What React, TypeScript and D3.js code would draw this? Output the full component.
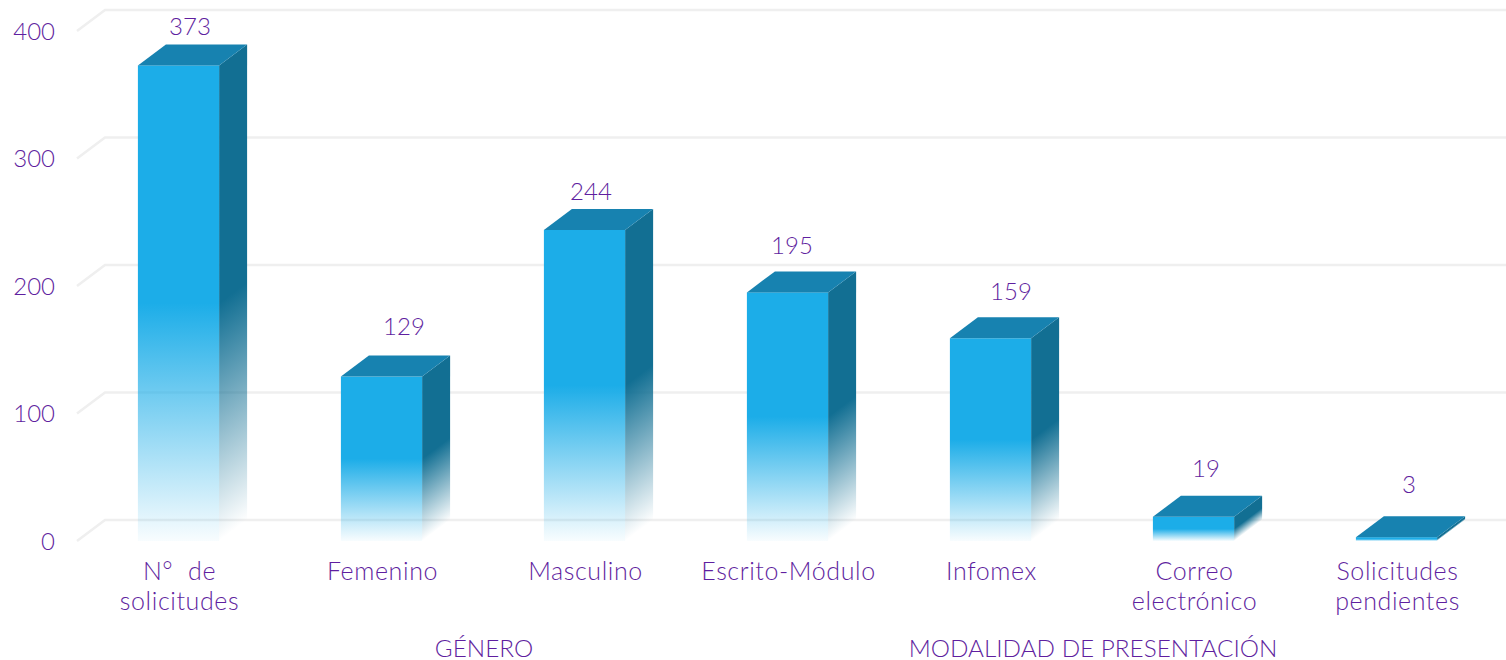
import * as d3 from 'd3';

// Solicitudes de información, by category
const categories = [
  ['N°\u00a0 de', 'solicitudes'],
  ['Femenino'],
  ['Masculino'],
  ['Escrito-Módulo'],
  ['Infomex'],
  ['Correo', 'electrónico'],
  ['Solicitudes', 'pendientes'],
];
const values = [373, 129, 244, 195, 159, 19, 3];
const yTicks = [0, 100, 200, 300, 400];

// group label -> first and last category index it sits under
const groups: [string, number, number][] = [
  ['GÉNERO', 1, 2],
  ['MODALIDAD DE PRESENTACIÓN', 3, 6],
];

const width = 1506;
const height = 660;
const depthX = 28;
const depthY = 21;
const baseY = 541;
// the value labels were moved by hand in the original, [dx from bar centre, dy above back edge]
const labelNudge = [
  [11.5, 18],
  [22.5, 29],
  [6.5, 18],
  [4.5, 26],
  [20.5, 26],
  [12.5, 27],
  [12.5, 32],
];

const frontColor = '#1cade8';
const sideColor = '#126f93';
const topColor = '#1782b0';
const textColor = '#5f1fa0';
const gridColor = '#efefef';
const font = 'Lato, "Open Sans", sans-serif';

const x = d3
  .scaleBand<number>()
  .domain(d3.range(values.length))
  .range([77, 1498])
  .paddingInner(0.6)
  .paddingOuter(0.3);
const y = d3.scaleLinear().domain([0, 400]).range([baseY, baseY - 510]);

const poly = d3.line();

const App = () => {
  const bw = x.bandwidth();
  const n = Math.hypot(depthX, depthY);
  return (
    <svg
      width={width}
      height={height}
      style={{ position: 'absolute', left: 0, top: 0, background: '#fff' }}
      fontFamily={font}
      fontWeight={300}
      fill={textColor}
    >
      <defs>
        <linearGradient id="front" x1="0" y1="0" x2="0" y2="1">
          <stop offset="0.5" stopColor={frontColor} />
          <stop offset="1" stopColor={frontColor} stopOpacity={0.03} />
        </linearGradient>
        {values.map((v, i) => {
          // side face fades along the slant of its bottom edge
          const xr = x(i)! + bw;
          const h = baseY - y(v);
          const d = ((h / 2) * depthX) / n;
          const y0 = baseY - h / 2;
          return (
            <linearGradient
              key={i}
              id={`side${i}`}
              gradientUnits="userSpaceOnUse"
              x1={xr}
              y1={y0}
              x2={xr + (depthY / n) * d}
              y2={y0 + (depthX / n) * d}
            >
              <stop offset="0" stopColor={sideColor} />
              <stop offset="1" stopColor={sideColor} stopOpacity={0} />
            </linearGradient>
          );
        })}
      </defs>

      <g stroke={gridColor} strokeWidth={2.5} fill="none">
        {yTicks.map((t) => (
          <path
            key={t}
            d={poly([
              [77, y(t)],
              [77 + depthX, y(t) - depthY],
              [width + 2, y(t) - depthY],
            ])!}
          />
        ))}
      </g>

      <g fontSize={24} textAnchor="end">
        {yTicks.map((t) => (
          <text key={t} x={55} y={y(t) + 1.5} dy="0.3em">
            {t}
          </text>
        ))}
      </g>

      {values.map((v, i) => {
        const x0 = x(i)!;
        const x1 = x0 + bw;
        const top = y(v);
        return (
          <g key={i}>
            <path
              d={poly([
                [x1, top],
                [x1 + depthX, top - depthY],
                [x1 + depthX, baseY - depthY],
                [x1, baseY],
              ])! + 'Z'}
              fill={`url(#side${i})`}
            />
            <rect x={x0} y={top} width={bw} height={baseY - top} fill="url(#front)" />
            <path
              d={poly([
                [x0, top],
                [x0 + depthX, top - depthY],
                [x1 + depthX, top - depthY],
                [x1, top],
              ])! + 'Z'}
              fill={topColor}
            />
            <text
              x={x0 + bw / 2 + labelNudge[i][0]}
              y={top - depthY - labelNudge[i][1]}
              dy="0.36em"
              fontSize={24}
              textAnchor="middle"
            >
              {v}
            </text>
            <text x={x0 + bw / 2} fontSize={25} letterSpacing={0.6} textAnchor="middle">
              {categories[i].map((line, j) => (
                <tspan key={j} x={x0 + bw / 2 + 1} y={580 + j * 29.5}>
                  {line}
                </tspan>
              ))}
            </text>
          </g>
        );
      })}

      {groups.map(([label, a, b]) => (
        <text
          key={label}
          x={(x(a)! + x(b)! + bw) / 2 + 1}
          y={656.5}
          fontSize={24.3}
          textAnchor="middle"
        >
          {label}
        </text>
      ))}
    </svg>
  );
};

export default App;
